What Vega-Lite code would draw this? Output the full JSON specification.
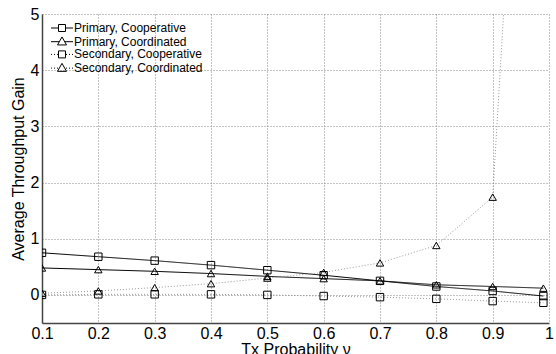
{
  "$schema": "https://vega.github.io/schema/vega-lite/v6.json",
  "width": 507,
  "height": 309,
  "autosize": "none",
  "padding": {"left": 42, "top": 14, "right": 7, "bottom": 31},
  "background": "white",
  "config": {
    "view": {"stroke": null},
    "font": "Liberation Sans",
    "axis": {
      "labelFont": "Liberation Sans",
      "labelFontSize": 16,
      "labelColor": "#000",
      "labelFlush": false,
      "titleFont": "Liberation Sans",
      "titleFontSize": 16,
      "titleFontWeight": "normal",
      "titleColor": "#000",
      "domainColor": "#444",
      "domainWidth": 1.5,
      "ticks": false,
      "grid": true,
      "gridColor": "#888",
      "gridDash": [1, 2],
      "gridWidth": 1,
      "gridOpacity": 1
    }
  },
  "data": {
    "values": [
      {"p": 0.1, "g": 0.75, "s": "Primary, Cooperative"},
      {"p": 0.2, "g": 0.68, "s": "Primary, Cooperative"},
      {"p": 0.3, "g": 0.61, "s": "Primary, Cooperative"},
      {"p": 0.4, "g": 0.53, "s": "Primary, Cooperative"},
      {"p": 0.5, "g": 0.44, "s": "Primary, Cooperative"},
      {"p": 0.6, "g": 0.35, "s": "Primary, Cooperative"},
      {"p": 0.7, "g": 0.25, "s": "Primary, Cooperative"},
      {"p": 0.8, "g": 0.15, "s": "Primary, Cooperative"},
      {"p": 0.9, "g": 0.07, "s": "Primary, Cooperative"},
      {"p": 0.99, "g": -0.02, "s": "Primary, Cooperative"},
      {"p": 0.1, "g": 0.48, "s": "Primary, Coordinated"},
      {"p": 0.2, "g": 0.45, "s": "Primary, Coordinated"},
      {"p": 0.3, "g": 0.42, "s": "Primary, Coordinated"},
      {"p": 0.4, "g": 0.38, "s": "Primary, Coordinated"},
      {"p": 0.5, "g": 0.33, "s": "Primary, Coordinated"},
      {"p": 0.6, "g": 0.29, "s": "Primary, Coordinated"},
      {"p": 0.7, "g": 0.25, "s": "Primary, Coordinated"},
      {"p": 0.8, "g": 0.18, "s": "Primary, Coordinated"},
      {"p": 0.9, "g": 0.15, "s": "Primary, Coordinated"},
      {"p": 0.99, "g": 0.12, "s": "Primary, Coordinated"},
      {"p": 0.1, "g": 0.0, "s": "Secondary, Cooperative"},
      {"p": 0.2, "g": 0.01, "s": "Secondary, Cooperative"},
      {"p": 0.3, "g": 0.01, "s": "Secondary, Cooperative"},
      {"p": 0.4, "g": 0.01, "s": "Secondary, Cooperative"},
      {"p": 0.5, "g": 0.0, "s": "Secondary, Cooperative"},
      {"p": 0.6, "g": -0.02, "s": "Secondary, Cooperative"},
      {"p": 0.7, "g": -0.04, "s": "Secondary, Cooperative"},
      {"p": 0.8, "g": -0.07, "s": "Secondary, Cooperative"},
      {"p": 0.9, "g": -0.11, "s": "Secondary, Cooperative"},
      {"p": 0.99, "g": -0.14, "s": "Secondary, Cooperative"},
      {"p": 0.1, "g": 0.03, "s": "Secondary, Coordinated"},
      {"p": 0.2, "g": 0.07, "s": "Secondary, Coordinated"},
      {"p": 0.3, "g": 0.13, "s": "Secondary, Coordinated"},
      {"p": 0.4, "g": 0.2, "s": "Secondary, Coordinated"},
      {"p": 0.5, "g": 0.3, "s": "Secondary, Coordinated"},
      {"p": 0.6, "g": 0.4, "s": "Secondary, Coordinated"},
      {"p": 0.7, "g": 0.57, "s": "Secondary, Coordinated"},
      {"p": 0.8, "g": 0.88, "s": "Secondary, Coordinated"},
      {"p": 0.9, "g": 1.74, "s": "Secondary, Coordinated"},
      {"p": 0.99, "g": 16.9, "s": "Secondary, Coordinated"}
    ]
  },
  "encoding": {
    "x": {
      "field": "p",
      "type": "quantitative",
      "scale": {"domain": [0.1, 1], "nice": false, "zero": false},
      "axis": {
        "values": [0.1, 0.2, 0.3, 0.4, 0.5, 0.6, 0.7, 0.8, 0.9, 1],
        "format": "~g",
        "title": "Tx Probability ν",
        "labelPadding": 2,
        "titlePadding": 0
      }
    },
    "y": {
      "field": "g",
      "type": "quantitative",
      "scale": {"domain": [-0.5, 5], "nice": false, "zero": false},
      "axis": {
        "values": [0, 1, 2, 3, 4, 5],
        "title": "Average Throughput Gain",
        "labelPadding": 3,
        "titlePadding": 4
      }
    }
  },
  "layer": [
    {
      "mark": {"type": "line", "clip": true, "strokeWidth": 1},
      "encoding": {
        "color": {
          "field": "s",
          "type": "nominal",
          "scale": {
            "domain": ["Primary, Cooperative", "Primary, Coordinated", "Secondary, Cooperative", "Secondary, Coordinated"],
            "range": ["#000000", "#000000", "#999999", "#999999"]
          },
          "legend": null
        },
        "strokeDash": {
          "field": "s",
          "type": "nominal",
          "scale": {
            "domain": ["Primary, Cooperative", "Primary, Coordinated", "Secondary, Cooperative", "Secondary, Coordinated"],
            "range": [[1, 0], [1, 0], [1, 2], [1, 2]]
          },
          "legend": null
        }
      }
    },
    {
      "mark": {"type": "point", "clip": true, "filled": false, "stroke": "black", "strokeWidth": 1, "opacity": 1, "size": 55},
      "encoding": {
        "shape": {
          "field": "s",
          "type": "nominal",
          "scale": {
            "domain": ["Primary, Cooperative", "Primary, Coordinated", "Secondary, Cooperative", "Secondary, Coordinated"],
            "range": ["square", "triangle-up", "square", "triangle-up"]
          },
          "legend": null
        }
      }
    },
    {
      "mark": {"type": "point", "clip": true, "filled": false, "stroke": "black", "strokeWidth": 1, "opacity": 0},
      "encoding": {
        "shape": {
          "field": "s",
          "type": "nominal",
          "scale": {
            "domain": ["Primary, Cooperative", "Primary, Coordinated", "Secondary, Cooperative", "Secondary, Coordinated"],
            "range": [
              "M-2.2,0H-0.7M0.7,0H2.2M-0.7,-0.7H0.7V0.7H-0.7Z",
              "M-2.2,0H-0.55M0.55,0H2.2M0,-0.95L0.9,0.65H-0.9Z",
              "M-2.2,0h0.2M-1.6,0h0.2M-1,0h0.2M0.8,0h0.2M1.4,0h0.2M2,0h0.2M-0.7,-0.7H0.7V0.7H-0.7Z",
              "M-2.2,0h0.2M-1.6,0h0.2M-1,0h0.2M0.8,0h0.2M1.4,0h0.2M2,0h0.2M0,-0.95L0.9,0.65H-0.9Z"
            ]
          },
          "legend": {
            "orient": "none",
            "legendX": 14,
            "legendY": 8,
            "title": null,
            "padding": 0,
            "labelFont": "Liberation Sans",
            "labelFontSize": 12,
            "labelColor": "#000",
            "labelOffset": 6,
            "symbolSize": 100,
            "symbolStrokeWidth": 1,
            "symbolStrokeColor": "black",
            "symbolFillColor": "transparent",
            "symbolOpacity": 1,
            "rowPadding": 0.7
          }
        }
      }
    }
  ],
  "resolve": {"scale": {"shape": "independent"}, "legend": {"shape": "independent"}}
}
